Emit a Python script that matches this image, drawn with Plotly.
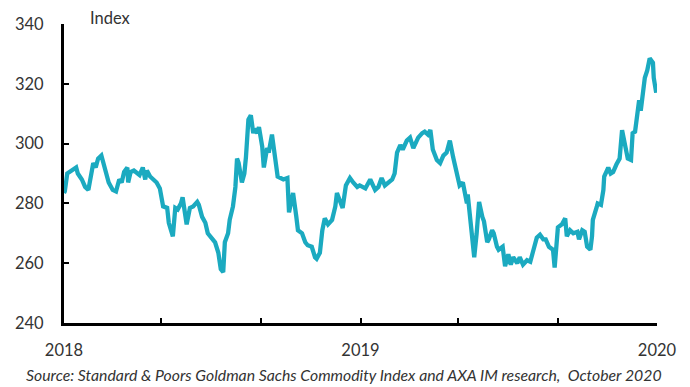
import datetime as dt
import plotly.graph_objects as go

day_offsets = [0, 1, 4, 7, 11, 15, 17, 22, 26, 30, 34, 36, 39, 42, 46, 48, 52, 55, 60, 64,
               68, 71, 74, 78, 79, 82, 86, 90, 93, 97, 100, 102, 106, 110, 114, 118, 122, 127, 129, 134,
               137, 140, 144, 146, 151, 155, 159, 164, 166, 170, 174, 177, 182, 186, 190, 193, 196, 198, 202, 204,
               208, 211, 213, 215, 219, 222, 224, 227, 230, 233, 235, 238, 240, 244, 246, 250, 252, 256, 260, 263,
               270, 275, 277, 282, 286, 288, 293, 297, 300, 305, 309, 311, 315, 318, 321, 325, 330, 334, 336, 340,
               343, 347, 352, 356, 361, 364, 371, 377, 383, 387, 391, 395, 399, 404, 407, 410, 414, 417, 422, 426,
               430, 432, 436, 441, 444, 448, 451, 454, 459, 463, 467, 471, 475, 479, 484, 487, 491, 496, 497, 502,
               505, 508, 511, 515, 517, 521, 523, 527, 529, 533, 535, 540, 543, 547, 550, 553, 558, 561, 565, 570,
               574, 577, 582, 586, 590, 593, 597, 602, 604, 608, 613, 617, 619, 623, 627, 632, 634, 638, 641, 644,
               648, 650, 651, 656, 657, 661, 664, 665, 668, 670, 673, 676, 680, 682, 684, 687, 691, 694, 698, 700,
               703, 705, 708, 710, 713, 715, 718, 721, 725, 726, 729]

index_values = [283.5, 284, 290, 290.5, 291, 292, 290, 288, 285.5, 284.5, 290.5, 293.5, 292, 295, 296, 294, 290, 287, 284.5, 284,
                288, 287, 290.5, 292, 287, 290.5, 291, 290, 289.5, 292, 288, 291, 289, 288, 287, 285, 279, 278.5, 273.5, 269,
                278.5, 278, 280, 282, 273, 278.5, 279, 280.5, 279.5, 275.5, 273.5, 270, 268.5, 267, 263.5, 258, 257, 267, 270, 274.5,
                279, 285.5, 295, 293.5, 287, 290, 295.5, 308, 309.5, 303.5, 305, 303.5, 305.5, 299, 292, 298.5, 297, 303, 295, 289,
                288, 288.5, 277, 283.5, 275.5, 271, 270, 267, 266, 265.5, 262, 261.5, 263.5, 271, 275, 273, 274.5, 279, 283.5, 281,
                278.5, 286, 288.5, 287, 285.5, 286, 285, 288, 284.5, 285.5, 288.5, 286, 287, 288, 290, 297, 299.5, 298, 301, 302,
                298.5, 299.5, 302, 303.5, 304, 303, 304.5, 298, 294.5, 293.5, 296, 297, 301, 295.5, 290, 286, 287, 280, 283, 271,
                262, 270, 280.5, 275.5, 274, 267, 268, 271, 270, 265.5, 264.5, 265.5, 259, 263, 259.5, 262, 260, 262, 259.5, 261,
                260.5, 263.5, 268.5, 269.5, 268, 268, 265.5, 264.5, 258.5, 272, 273, 275, 269, 271, 270, 270.5, 268, 271, 270.5, 265.5,
                264.5, 269, 274.5, 279, 280, 279.5, 284.5, 289, 291, 292, 290, 290.5, 293, 294, 295, 304.5, 298, 295, 294.5, 303.5,
                304, 308, 314.5, 311, 319.5, 322, 324.5, 328.5, 327, 322, 317]

x_tick_dates = ["2018-01-01", "2018-05-01", "2018-09-01", "2019-01-01", "2019-05-01", "2019-09-01", "2020-01-01"]
x_tick_text = ["2018", "", "", "2019", "", "", "2020"]
y_tick_vals = [240, 260, 280, 300, 320, 340]

start = dt.date(2018, 1, 1)
dates = [start + dt.timedelta(days=d) for d in day_offsets]

FONT = "Lato"
TXT = "#333333"

fig = go.Figure()
fig.add_trace(go.Scatter(
    x=dates, y=index_values, mode="lines",
    line=dict(color="#1BAAC0", width=4.3),
    hoverinfo="skip", showlegend=False,
))

fig.update_layout(
    width=690, height=387,
    margin=dict(l=64, r=33, t=24, b=64),
    paper_bgcolor="white", plot_bgcolor="white",
    font=dict(family=FONT, size=16.5, color=TXT),
    xaxis=dict(
        range=["2018-01-01", "2020-01-01"],
        tickvals=x_tick_dates, ticktext=x_tick_text,
        ticks="inside", ticklen=5, tickwidth=2, tickcolor="black",
        showline=True, linecolor="black", linewidth=3,
        showgrid=False, zeroline=False,
        tickfont=dict(family=FONT, size=16.5, color=TXT),
        ticklabelstandoff=10,
    ),
    yaxis=dict(
        range=[240, 340],
        tickvals=y_tick_vals,
        ticks="inside", ticklen=5, tickwidth=2, tickcolor="black",
        showline=True, linecolor="black", linewidth=3,
        showgrid=False, zeroline=False,
        tickfont=dict(family=FONT, size=16.5, color=TXT),
        ticklabelstandoff=14,
    ),
    annotations=[
        dict(text="Index", xref="paper", yref="paper", x=(88 - 64) / 593, y=1.02,
             xanchor="left", yanchor="middle", showarrow=False,
             font=dict(family=FONT, size=16.5, color=TXT)),
        dict(text="<i>Source: Standard & Poors Goldman Sachs Commodity Index and AXA IM research,  October 2020</i>",
             xref="paper", yref="paper", x=(344 - 64) / 593, y=-(374 - 323) / 299,
             xanchor="center", yanchor="middle", showarrow=False,
             font=dict(family=FONT, size=15.8, color=TXT)),
    ],
)

fig.write_html("out.html")
